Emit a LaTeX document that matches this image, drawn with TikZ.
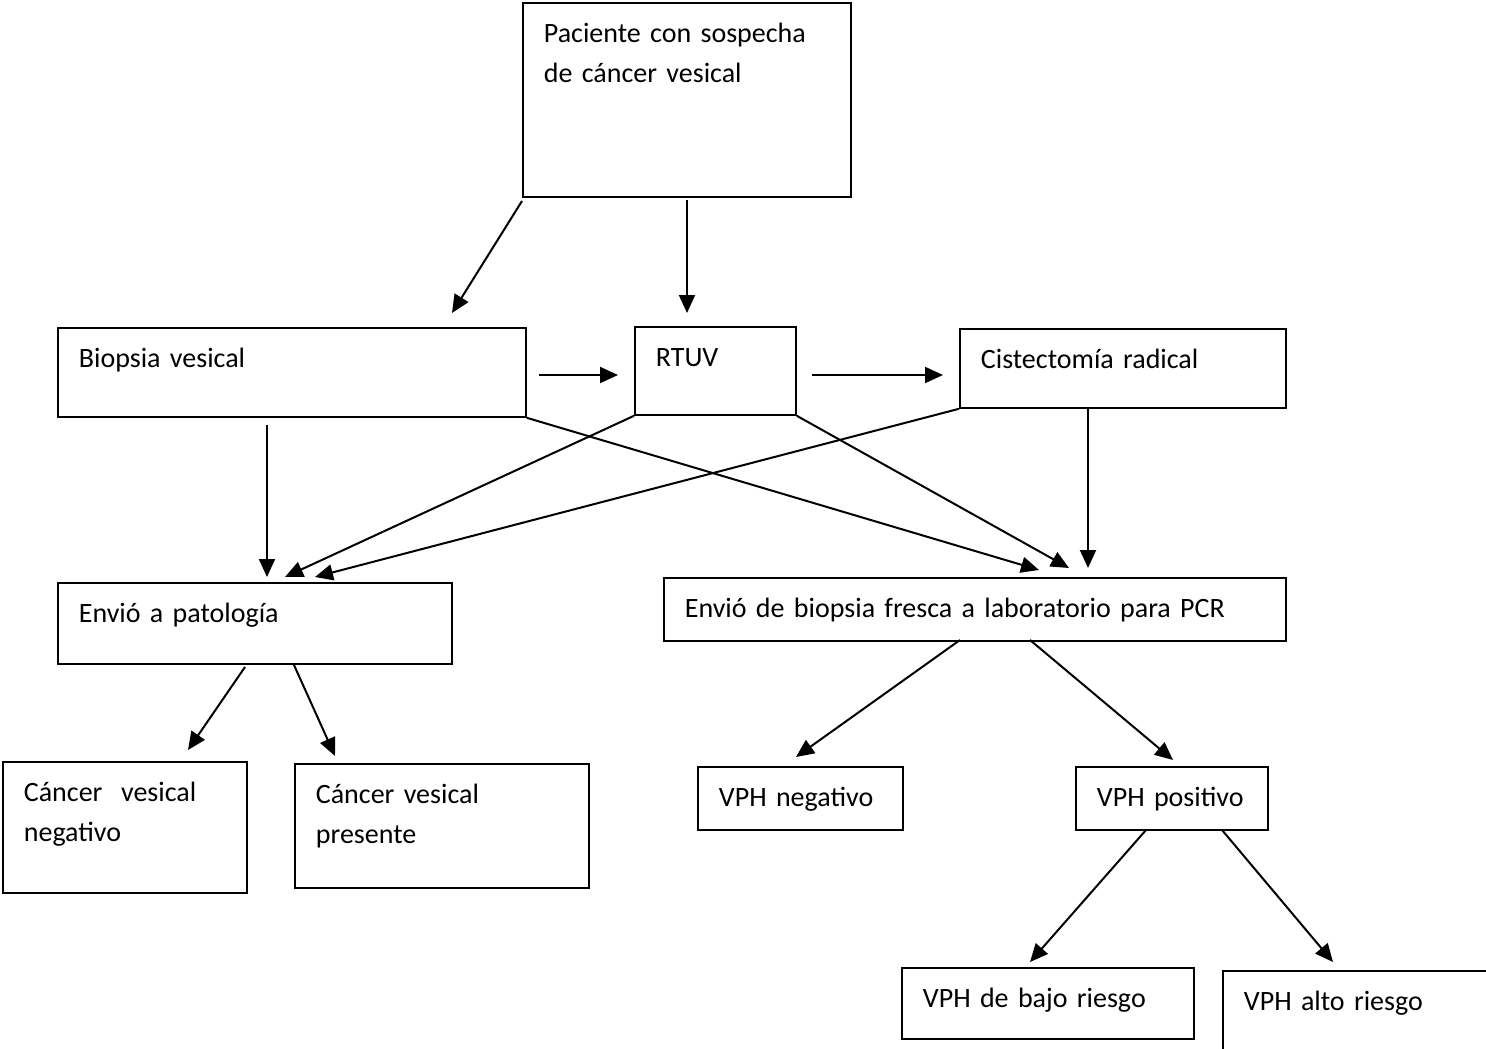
\documentclass[tikz,border=0pt]{standalone}
\usepackage{fontspec}
\setmainfont{Carlito}
\usetikzlibrary{arrows.meta}

\tikzset{
  caja/.style={draw, line width=0.9pt, anchor=north west, align=left,
    inner xsep=10.5pt, inner ysep=0pt, text height=20pt,
    font=\fontsize{14}{20}\selectfont},
  flecha/.style={line width=1pt, -{Triangle[length=9pt,width=8pt]}}
}

\begin{document}
\begin{tikzpicture}[x=0.5pt, y=-0.5pt]
  \clip (0,0) rectangle (1486,1048);

  % cajas
  \node [caja, text width=143pt, text depth=77pt] (pac) at (522,2)
    {Paciente con sospecha\\de cáncer vesical};
  \node [caja, text width=213pt, text depth=24.5pt] (bio) at (57,327) {Biopsia vesical};
  \node [caja, text width=59.5pt, text depth=24pt] (rtuv) at (634,326) {RTUV};
  \node [caja, text width=142pt, text depth=19.5pt] (cist) at (959,328) {Cistectomía radical};
  \node [caja, text width=176pt, text depth=20.5pt] (pat) at (57,582) {Envió a patología};
  \node [caja, text width=290pt, text depth=11.5pt] (pcr) at (663,577)
    {Envió de biopsia fresca a laboratorio para PCR};
  \node [caja, text width=101pt, text depth=45.5pt] (neg) at (2,761) {Cáncer\ \ vesical\\negativo};
  \node [caja, text width=126pt, text depth=42pt] (pres) at (294,763) {Cáncer vesical\\presente};
  \node [caja, text width=81.5pt, text depth=11.5pt] (vneg) at (697,766) {VPH negativo};
  \node [caja, text width=75pt, text depth=11.5pt] (vpos) at (1075,766) {VPH positivo};
  \node [caja, text width=125pt, text depth=15.5pt] (bajo) at (901,967) {VPH de bajo riesgo};
  \node [caja, text width=129pt, text depth=30pt] (alto) at (1222,970) {VPH alto riesgo};

  % extremos de flechas
  \coordinate (p1) at (522,201);   \coordinate (b1) at (452,313);
  \coordinate (p2) at (687,200);   \coordinate (r1) at (687,313);
  \coordinate (b2) at (539,375);   \coordinate (r2) at (618,375);
  \coordinate (r3) at (812,375);   \coordinate (c1) at (943,375);
  \coordinate (b3) at (267,425);   \coordinate (e1) at (267,577);
  \coordinate (e2) at (285,577);   \coordinate (e3) at (315,577);
  \coordinate (f1) at (1039,570);  \coordinate (f2) at (1069,568);
  \coordinate (c2) at (1088,407);  \coordinate (f3) at (1088,568);
  \coordinate (e4) at (245,667);   \coordinate (n1) at (188,750);
  \coordinate (e5) at (294,665);   \coordinate (s1) at (335,756);
  \coordinate (f4) at (960,640);   \coordinate (g1) at (796,757);
  \coordinate (f5) at (1030,640);  \coordinate (h1) at (1173,760);
  \coordinate (h2) at (1146,830);  \coordinate (k1) at (1030,962);
  \coordinate (h3) at (1222,830);  \coordinate (k2) at (1333,962);

  % flechas
  \draw [flecha] (p1) -- (b1);
  \draw [flecha] (p2) -- (r1);
  \draw [flecha] (b2) -- (r2);
  \draw [flecha] (r3) -- (c1);
  \draw [flecha] (b3) -- (e1);
  \draw [flecha] (bio.south east) -- (f1);
  \draw [flecha] (rtuv.south west) -- (e2);
  \draw [flecha] (rtuv.south east) -- (f2);
  \draw [flecha] (cist.south west) -- (e3);
  \draw [flecha] (c2) -- (f3);
  \draw [flecha] (e4) -- (n1);
  \draw [flecha] (e5) -- (s1);
  \draw [flecha] (f4) -- (g1);
  \draw [flecha] (f5) -- (h1);
  \draw [flecha] (h2) -- (k1);
  \draw [flecha] (h3) -- (k2);
\end{tikzpicture}
\end{document}
